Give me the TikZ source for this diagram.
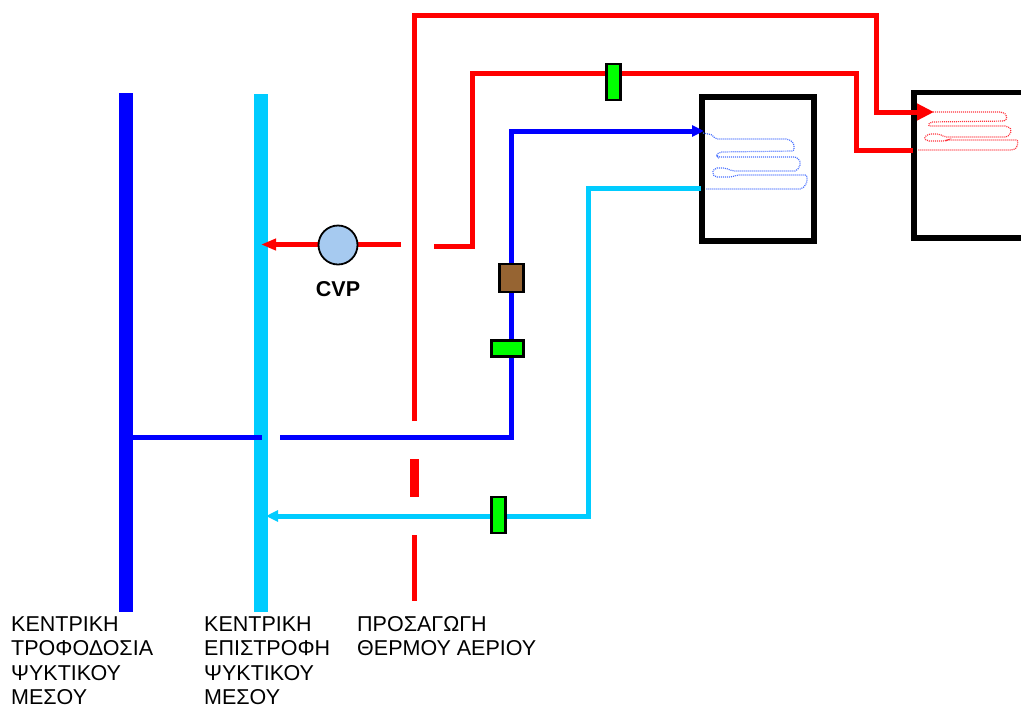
\documentclass[tikz,border=0pt]{standalone}
\usepackage{fontspec}
\setmainfont{Liberation Sans}
\usetikzlibrary{arrows.meta}
\definecolor{pipeblue}{RGB}{0,0,255}
\definecolor{pipecyan}{RGB}{0,204,255}
\definecolor{piperead}{RGB}{255,0,0}
\definecolor{valvegreen}{RGB}{0,255,0}
\definecolor{valvebrown}{RGB}{150,100,50}
\definecolor{pumpblue}{RGB}{166,202,240}
\definecolor{coilblue}{RGB}{70,110,255}
\definecolor{coilred}{RGB}{255,50,60}
\tikzset{
  x=1pt,y=-1pt,
  pipe/.style={line width=5pt,line join=miter},
  main/.style={line width=14pt},
  bigtip/.style={-{Triangle[length=17pt,width=16pt]}},
  smalltip/.style={-{Triangle[length=12pt,width=11pt]}},
  longtip/.style={-{Triangle[length=15pt,width=11pt]}},
  valve/.style={draw=black,line width=2.5pt,inner sep=0pt},
  coilbox/.style={draw=black,line width=5.5pt},
  coil/.style={line width=1.2pt,dash pattern=on 1pt off 1pt,rounded corners=2pt},
  lbl/.style={font=\fontsize{21.5}{24.5}\selectfont,align=left,anchor=north west,inner sep=0pt},
}
\begin{document}
\begin{tikzpicture}
\useasboundingbox (0,0) rectangle (1021,705);
% named coordinates
\coordinate (mainTopA) at (126,93); \coordinate (mainBotA) at (126,612);
\coordinate (mainTopB) at (261,94); \coordinate (mainBotB) at (261,612);
\coordinate (r1a) at (414.5,421); \coordinate (r1b) at (414.5,15); \coordinate (r1c) at (876,15);
\coordinate (r1d) at (876,112); \coordinate (r1e) at (934,112);
\coordinate (r1f) at (414.5,459); \coordinate (r1g) at (414.5,497);
\coordinate (r1h) at (414.5,535); \coordinate (r1i) at (414.5,601);
\coordinate (r2a) at (434,246); \coordinate (r2b) at (472,246); \coordinate (r2c) at (472,73);
\coordinate (r2d) at (856,73); \coordinate (r2e) at (856,150); \coordinate (r2f) at (913,150);
\coordinate (r3a) at (401,244.5); \coordinate (r3b) at (261,244.5);
\coordinate (b1a) at (133,437); \coordinate (b1b) at (262,437);
\coordinate (b2a) at (280,437); \coordinate (b2b) at (511,437); \coordinate (b2c) at (511,131); \coordinate (b2d) at (704,131);
\coordinate (c1a) at (701,188); \coordinate (c1b) at (588,188); \coordinate (c1c) at (588,516); \coordinate (c1d) at (266,516);
% boxes
\draw[coilbox] (702,97) rectangle (814,241);
\draw[coilbox] (1022,92.5) -- (914,92.5) -- (914,238) -- (1022,238);
% mains
\draw[main,pipeblue] (mainTopA) -- (mainBotA);
\draw[main,pipecyan] (mainTopB) -- (mainBotB);
% pipes
\draw[pipe,piperead,bigtip] (r1a) -- (r1b) -- (r1c) -- (r1d) -- (r1e);
\draw[line width=9pt,piperead] (r1f) -- (r1g);
\draw[pipe,piperead] (r1h) -- (r1i);
\draw[pipe,piperead] (r2a) -- (r2b) -- (r2c) -- (r2d) -- (r2e) -- (r2f);
\draw[pipe,piperead,longtip] (r3a) -- (r3b);
\draw[pipe,pipeblue] (b1a) -- (b1b);
\draw[pipe,pipeblue,smalltip] (b2a) -- (b2b) -- (b2c) -- (b2d);
\draw[pipe,pipecyan,smalltip] (c1a) -- (c1b) -- (c1c) -- (c1d);
% coils
\draw[coil,coilblue] (703,133) -- (713,135) -- (715,139) -- (788,139) -- (794,143) -- (794,151) -- (720,152) -- (716,155) -- (718,157) -- (797,157) -- (801,163) -- (797,171) -- (733,171) -- (725,168) -- (715,168) -- (712,173) -- (715,177) -- (732,177) -- (737,175) -- (807,175) -- (807,183) -- (802,189) -- (706,189);
\draw[coil,coilred] (933,112) -- (1002,112) -- (1007,115) -- (1006,121) -- (930,122) -- (928,126) -- (1007,126) -- (1012,130) -- (1008,137) -- (945,137) -- (939,134) -- (928,134) -- (924,138) -- (927,141) -- (945,141) -- (947,140) -- (1018,140) -- (1017,148) -- (1013,150) -- (918,150);
% devices
\node[valve,fill=valvegreen,minimum width=14pt,minimum height=36pt] (vTop) at (613.5,82) {};
\node[valve,fill=valvebrown,minimum width=24pt,minimum height=28pt] (vBrown) at (511.5,278) {};
\node[valve,fill=valvegreen,minimum width=32pt,minimum height=16pt] (vMid) at (507.5,348.5) {};
\node[valve,fill=valvegreen,minimum width=14pt,minimum height=36pt] (vBot) at (498.5,515) {};
\node[circle,draw=black,line width=1.8pt,fill=pumpblue,minimum size=39pt,inner sep=0pt] (pump) at (338,245) {};
\node[font=\fontsize{21.5}{24}\selectfont\bfseries] (cvp) at (338,289) {CVP};
% labels
\node[lbl] (l1) at (11,616) {ΚΕΝΤΡΙΚΗ\\ΤΡΟΦΟΔΟΣΙΑ\\ΨΥΚΤΙΚΟΥ\\ΜΕΣΟΥ};
\node[lbl] (l2) at (204,616) {ΚΕΝΤΡΙΚΗ\\ΕΠΙΣΤΡΟΦΗ\\ΨΥΚΤΙΚΟΥ\\ΜΕΣΟΥ};
\node[lbl] (l3) at (357,616) {ΠΡΟΣΑΓΩΓΗ\\ΘΕΡΜΟΥ ΑΕΡΙΟΥ};
\end{tikzpicture}
\end{document}
